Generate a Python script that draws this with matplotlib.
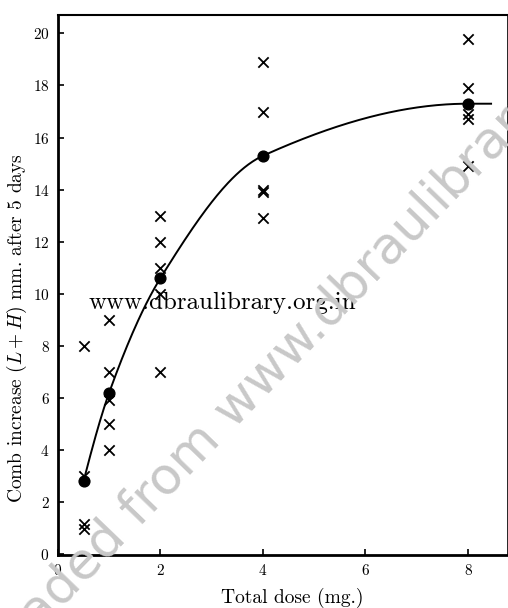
import numpy as np
import matplotlib.pyplot as plt

plt.rcParams['font.family'] = ['cmr10', 'DejaVu Serif']
plt.rcParams['mathtext.fontset'] = 'cm'
plt.rcParams['axes.formatter.use_mathtext'] = True

# individual birds: dose (mg) and comb increase (mm)
dose_pts = [0.5, 0.5, 0.5, 0.5,
            1, 1, 1, 1, 1,
            2, 2, 2, 2, 2,
            4, 4, 4, 4, 4,
            8, 8, 8, 8, 8]
comb_pts = [8.0, 3.0, 1.15, 0.95,
            9.0, 7.0, 5.9, 5.0, 4.0,
            13.0, 12.0, 11.0, 10.0, 7.0,
            18.9, 17.0, 14.0, 13.9, 12.9,
            19.8, 17.9, 16.9, 16.7, 14.9]

# group means
dose_mean = [0.5, 1, 2, 4, 8]
comb_mean = [2.8, 6.2, 10.6, 15.3, 17.3]


def pchip(x, y, xs):
    # monotone cubic through the means
    x = np.asarray(x, float)
    y = np.asarray(y, float)
    h = np.diff(x)
    d = np.diff(y) / h
    m = np.zeros_like(y)
    for k in range(1, len(x) - 1):
        if d[k - 1] * d[k] > 0:
            w1 = 2 * h[k] + h[k - 1]
            w2 = h[k] + 2 * h[k - 1]
            m[k] = (w1 + w2) / (w1 / d[k - 1] + w2 / d[k])
    m0 = ((2 * h[0] + h[1]) * d[0] - h[0] * d[1]) / (h[0] + h[1])
    m[0] = m0 if m0 * d[0] > 0 else 0
    mn = ((2 * h[-1] + h[-2]) * d[-1] - h[-1] * d[-2]) / (h[-1] + h[-2])
    m[-1] = mn if mn * d[-1] > 0 else 0
    out = np.empty_like(xs)
    for i, xv in enumerate(xs):
        if xv >= x[-1]:
            out[i] = y[-1] + m[-1] * (xv - x[-1])
            continue
        k = min(np.searchsorted(x, xv, side='right') - 1, len(x) - 2)
        t = (xv - x[k]) / h[k]
        out[i] = ((2 * t**3 - 3 * t**2 + 1) * y[k]
                  + (t**3 - 2 * t**2 + t) * h[k] * m[k]
                  + (-2 * t**3 + 3 * t**2) * y[k + 1]
                  + (t**3 - t**2) * h[k] * m[k + 1])
    return out


fig = plt.figure(figsize=(5.08, 6.08), dpi=100)
ax = fig.add_axes([0.114, 0.087, 0.886, 0.888])

# faint diagonal stamp behind everything
fig.text(0.535, 0.39, 'Downloaded from www.dbraulibrary.org.in',
         fontsize=37, color='#c8c8c8', rotation=46, rotation_mode='anchor',
         ha='center', va='center', family='DejaVu Sans', zorder=0)

xs = np.linspace(0.5, 8.45, 300)
ax.plot(xs, pchip(dose_mean, comb_mean, xs), color='black', lw=1.4, zorder=3)
ax.scatter(dose_pts, comb_pts, marker='x', s=55, color='black', linewidths=1.3, zorder=4)
ax.scatter(dose_mean, comb_mean, marker='o', s=60, color='black', zorder=5)

ax.text(0.6, 9.65, 'www.dbraulibrary.org.in', fontsize=18, va='center', ha='left', zorder=6)

ax.set_xlim(0, 8.78)
ax.set_ylim(-0.04, 20.7)
ax.set_xticks([0, 2, 4, 6, 8])
ax.set_yticks(range(0, 21, 2))
ax.tick_params(direction='in', length=4, width=1.2, labelsize=11, pad=6)
for s in ['left', 'bottom']:
    ax.spines[s].set_linewidth(2.0)
ax.spines['top'].set_linewidth(1.5)
ax.spines['right'].set_linewidth(1.2)
ax.patch.set_alpha(0)

ax.set_xlabel('Total dose (mg.)', fontsize=14)
ax.set_ylabel('Comb increase $(L+H)$ mm. after 5 days', fontsize=14)
ax.xaxis.set_label_coords(0.52, -0.06)
ax.yaxis.set_label_coords(-0.064, 0.42)

fig.savefig('out.png', dpi=100)
